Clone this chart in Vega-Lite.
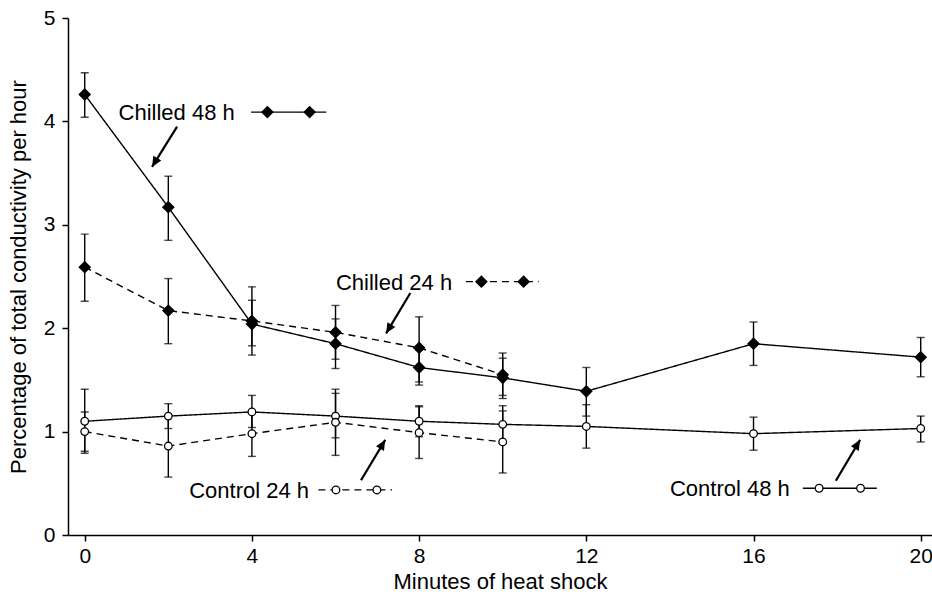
{
  "$schema": "https://vega.github.io/schema/vega-lite/v6.json",
  "autosize": "none",
  "width": 864,
  "height": 517,
  "padding": {"left": 68, "top": 18, "right": 0, "bottom": 62},
  "background": "white",
  "config": {
    "view": {"stroke": null},
    "font": "Liberation Sans",
    "axis": {
      "grid": false,
      "domainColor": "black",
      "domainWidth": 1.5,
      "tickColor": "black",
      "tickWidth": 1.5,
      "tickSize": 6,
      "labelColor": "black",
      "labelFontSize": 21,
      "titleColor": "black",
      "titleFontSize": 22,
      "titleFontWeight": "normal",
      "labelFont": "Liberation Sans",
      "titleFont": "Liberation Sans"
    }
  },
  "datasets": {
    "series": [
      {"t": "Chilled", "h": "48 h", "x": 0, "y": 4.26, "lo": 4.04, "hi": 4.47},
      {"t": "Chilled", "h": "48 h", "x": 2, "y": 3.17, "lo": 2.85, "hi": 3.47},
      {"t": "Chilled", "h": "48 h", "x": 4, "y": 2.04, "lo": 1.74, "hi": 2.40},
      {"t": "Chilled", "h": "48 h", "x": 6, "y": 1.85, "lo": 1.61, "hi": 2.09},
      {"t": "Chilled", "h": "48 h", "x": 8, "y": 1.62, "lo": 1.45, "hi": 1.79},
      {"t": "Chilled", "h": "48 h", "x": 10, "y": 1.52, "lo": 1.32, "hi": 1.71},
      {"t": "Chilled", "h": "48 h", "x": 12, "y": 1.39, "lo": 1.15, "hi": 1.62},
      {"t": "Chilled", "h": "48 h", "x": 16, "y": 1.85, "lo": 1.64, "hi": 2.06},
      {"t": "Chilled", "h": "48 h", "x": 20, "y": 1.72, "lo": 1.53, "hi": 1.91},
      {"t": "Chilled", "h": "24 h", "x": 0, "y": 2.59, "lo": 2.26, "hi": 2.91},
      {"t": "Chilled", "h": "24 h", "x": 2, "y": 2.17, "lo": 1.85, "hi": 2.48},
      {"t": "Chilled", "h": "24 h", "x": 4, "y": 2.07, "lo": 1.83, "hi": 2.27},
      {"t": "Chilled", "h": "24 h", "x": 6, "y": 1.96, "lo": 1.70, "hi": 2.22},
      {"t": "Chilled", "h": "24 h", "x": 8, "y": 1.81, "lo": 1.48, "hi": 2.11},
      {"t": "Chilled", "h": "24 h", "x": 10, "y": 1.55, "lo": 1.35, "hi": 1.76},
      {"t": "Control", "h": "48 h", "x": 0, "y": 1.10, "lo": 0.79, "hi": 1.41},
      {"t": "Control", "h": "48 h", "x": 2, "y": 1.15, "lo": 1.03, "hi": 1.27},
      {"t": "Control", "h": "48 h", "x": 4, "y": 1.19, "lo": 1.04, "hi": 1.35},
      {"t": "Control", "h": "48 h", "x": 6, "y": 1.15, "lo": 0.94, "hi": 1.37},
      {"t": "Control", "h": "48 h", "x": 8, "y": 1.10, "lo": 0.95, "hi": 1.25},
      {"t": "Control", "h": "48 h", "x": 10, "y": 1.07, "lo": 0.89, "hi": 1.25},
      {"t": "Control", "h": "48 h", "x": 12, "y": 1.05, "lo": 0.84, "hi": 1.26},
      {"t": "Control", "h": "48 h", "x": 16, "y": 0.98, "lo": 0.82, "hi": 1.14},
      {"t": "Control", "h": "48 h", "x": 20, "y": 1.03, "lo": 0.90, "hi": 1.15},
      {"t": "Control", "h": "24 h", "x": 0, "y": 1.00, "lo": 0.81, "hi": 1.19},
      {"t": "Control", "h": "24 h", "x": 2, "y": 0.86, "lo": 0.56, "hi": 1.16},
      {"t": "Control", "h": "24 h", "x": 4, "y": 0.98, "lo": 0.76, "hi": 1.20},
      {"t": "Control", "h": "24 h", "x": 6, "y": 1.09, "lo": 0.77, "hi": 1.41},
      {"t": "Control", "h": "24 h", "x": 8, "y": 0.99, "lo": 0.74, "hi": 1.24},
      {"t": "Control", "h": "24 h", "x": 10, "y": 0.90, "lo": 0.60, "hi": 1.20}
    ],
    "keyLines": [
      {"t": "Chilled", "h": "48 h", "x": 3.98, "y": 4.09},
      {"t": "Chilled", "h": "48 h", "x": 5.78, "y": 4.09},
      {"t": "Chilled", "h": "24 h", "x": 9.12, "y": 2.45},
      {"t": "Chilled", "h": "24 h", "x": 10.86, "y": 2.45},
      {"t": "Control", "h": "24 h", "x": 5.59, "y": 0.436},
      {"t": "Control", "h": "24 h", "x": 7.35, "y": 0.436},
      {"t": "Control", "h": "48 h", "x": 17.18, "y": 0.452},
      {"t": "Control", "h": "48 h", "x": 18.95, "y": 0.452}
    ],
    "keyPts": [
      {"t": "Chilled", "h": "48 h", "x": 4.37, "y": 4.09},
      {"t": "Chilled", "h": "48 h", "x": 5.38, "y": 4.09},
      {"t": "Chilled", "h": "24 h", "x": 9.49, "y": 2.45},
      {"t": "Chilled", "h": "24 h", "x": 10.50, "y": 2.45},
      {"t": "Control", "h": "24 h", "x": 6.01, "y": 0.436},
      {"t": "Control", "h": "24 h", "x": 6.99, "y": 0.436},
      {"t": "Control", "h": "48 h", "x": 17.57, "y": 0.452},
      {"t": "Control", "h": "48 h", "x": 18.56, "y": 0.452}
    ],
    "labels": [
      {"label": "Chilled 48 h", "x": 0.81, "y": 4.09},
      {"label": "Chilled 24 h", "x": 6.01, "y": 2.45},
      {"label": "Control 24 h", "x": 2.5, "y": 0.436},
      {"label": "Control 48 h", "x": 14.0, "y": 0.452}
    ],
    "arrows": [
      {"name": "c48", "x": 2.21, "y": 3.95, "x2": 1.61, "y2": 3.56},
      {"name": "c24", "x": 7.79, "y": 2.34, "x2": 7.21, "y2": 1.95},
      {"name": "k24", "x": 6.61, "y": 0.53, "x2": 7.19, "y2": 0.92},
      {"name": "k48", "x": 17.97, "y": 0.525, "x2": 18.55, "y2": 0.92}
    ]
  },
  "encoding": {
    "x": {
      "field": "x", "type": "quantitative",
      "scale": {"domain": [-0.4, 20.27], "nice": false, "zero": false},
      "axis": {"values": [0, 4, 8, 12, 16, 20], "title": "Minutes of heat shock", "labelPadding": 4, "titlePadding": 5}
    },
    "y": {
      "field": "y", "type": "quantitative",
      "scale": {"domain": [0, 5], "nice": false},
      "axis": {"values": [0, 1, 2, 3, 4, 5], "title": "Percentage of total conductivity per hour", "labelPadding": 7, "titlePadding": 13}
    }
  },
  "layer": [
    {
      "mark": {"type": "rule", "color": "black", "strokeWidth": 1.5},
      "encoding": {"y": {"datum": 5}, "x": null}
    },
    {
      "data": {"name": "series"},
      "mark": {"type": "rule", "color": "black", "strokeWidth": 1.4},
      "encoding": {
        "y": {"field": "lo", "type": "quantitative"},
        "y2": {"field": "hi"}
      }
    },
    {
      "data": {"name": "series"},
      "mark": {"type": "tick", "orient": "horizontal", "color": "black", "size": 8, "thickness": 1.4},
      "encoding": {"y": {"field": "lo", "type": "quantitative"}}
    },
    {
      "data": {"name": "series"},
      "mark": {"type": "tick", "orient": "horizontal", "color": "black", "size": 8, "thickness": 1.4},
      "encoding": {"y": {"field": "hi", "type": "quantitative"}}
    },
    {
      "data": {"name": "series"},
      "mark": {"type": "line", "color": "black", "strokeWidth": 1.4},
      "encoding": {
        "detail": [{"field": "t"}, {"field": "h"}],
        "strokeDash": {"field": "h", "type": "nominal", "scale": {"domain": ["48 h", "24 h"], "range": [[1, 0], [7, 5]]}, "legend": null}
      }
    },
    {
      "data": {"name": "keyLines"},
      "mark": {"type": "line", "color": "black", "strokeWidth": 1.4},
      "encoding": {
        "detail": [{"field": "t"}, {"field": "h"}],
        "strokeDash": {"field": "h", "type": "nominal", "scale": {"domain": ["48 h", "24 h"], "range": [[1, 0], [7, 5]]}, "legend": null}
      }
    },
    {
      "data": {"name": "series"},
      "mark": {"type": "point", "stroke": "black", "strokeWidth": 1.3, "opacity": 1, "filled": false},
      "encoding": {
        "shape": {"field": "t", "type": "nominal", "scale": {"domain": ["Chilled", "Control"], "range": ["diamond", "circle"]}, "legend": null},
        "fill": {"field": "t", "type": "nominal", "scale": {"domain": ["Chilled", "Control"], "range": ["black", "white"]}, "legend": null},
        "size": {"field": "t", "type": "nominal", "scale": {"domain": ["Chilled", "Control"], "range": [120, 58]}, "legend": null}
      }
    },
    {
      "data": {"name": "keyPts"},
      "mark": {"type": "point", "stroke": "black", "strokeWidth": 1.3, "opacity": 1, "filled": false},
      "encoding": {
        "shape": {"field": "t", "type": "nominal", "scale": {"domain": ["Chilled", "Control"], "range": ["diamond", "circle"]}, "legend": null},
        "fill": {"field": "t", "type": "nominal", "scale": {"domain": ["Chilled", "Control"], "range": ["black", "white"]}, "legend": null},
        "size": {"field": "t", "type": "nominal", "scale": {"domain": ["Chilled", "Control"], "range": [120, 58]}, "legend": null}
      }
    },
    {
      "data": {"name": "labels"},
      "mark": {"type": "text", "align": "left", "baseline": "middle", "fontSize": 22, "font": "Liberation Sans", "color": "black", "dy": 1},
      "encoding": {"text": {"field": "label"}}
    },
    {
      "data": {"name": "arrows"},
      "mark": {"type": "rule", "color": "black", "strokeWidth": 2.2},
      "encoding": {"x2": {"field": "x2"}, "y2": {"field": "y2"}}
    },
    {
      "data": {"name": "arrows"},
      "transform": [{"filter": "datum.name == 'c48' || datum.name == 'c24'"}],
      "mark": {"type": "point", "shape": "M0,0L-0.45,1L0.45,1Z", "filled": true, "color": "black", "opacity": 1, "size": 420, "angle": 211},
      "encoding": {"x": {"field": "x2", "type": "quantitative"}, "y": {"field": "y2", "type": "quantitative"}}
    },
    {
      "data": {"name": "arrows"},
      "transform": [{"filter": "datum.name == 'k24' || datum.name == 'k48'"}],
      "mark": {"type": "point", "shape": "M0,0L-0.45,1L0.45,1Z", "filled": true, "color": "black", "opacity": 1, "size": 420, "angle": 31},
      "encoding": {"x": {"field": "x2", "type": "quantitative"}, "y": {"field": "y2", "type": "quantitative"}}
    }
  ]
}
